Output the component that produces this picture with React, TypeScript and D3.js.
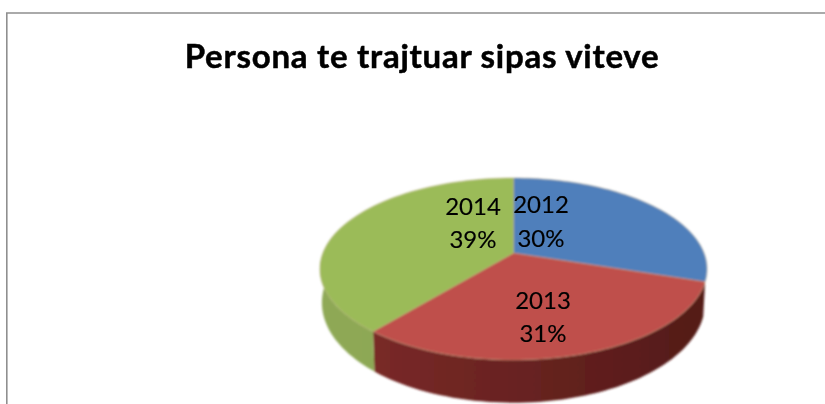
import React from "react";
import * as d3 from "d3";

const years = ["2012", "2013", "2014"];
const shares = [30, 31, 39];
const topColors = ["#4f7fbb", "#bf4f4c", "#9bbb59"];
const sideColors = [
  ["#3a5f8c", "#3a5f8c"],
  ["#7f2c2a", "#531a18"],
  ["#8fa956", "#84a04c"],
];
const title = "Persona te trajtuar sipas viteve";

const cx = 513.5;
const apexY = 253;
const rx = 190.5;
const ry = 88.2;
const k = 0.176;
const lowerDrop = 32;
const lowerScaleX = 0.99;
const lowerScaleY = 1.1;

const project = (a: number, lower = false): [number, number] => {
  const u = Math.sin(a);
  const v = -Math.cos(a);
  const w = 1 - k * v;
  const sx = lower ? lowerScaleX : 1;
  const sy = lower ? lowerScaleY : 1;
  return [cx + (rx * u * sx) / w, apexY + (ry * v * sy) / w + (lower ? lowerDrop : 0)];
};

const pie = d3.pie<number>().sort(null).value((d) => d);
const arcs = pie(shares);
const lineGen = d3.line();

const sample = (a0: number, a1: number, lower = false) =>
  d3.range(0, 61).map((i) => project(a0 + ((a1 - a0) * i) / 60, lower));

const topPath = (a0: number, a1: number) =>
  lineGen([[cx, apexY], ...sample(a0, a1)]) + "Z";

const sidePath = (a0: number, a1: number) => {
  const upper = sample(a0, a1);
  const lower = sample(a1, a0, true);
  return lineGen([...upper, ...lower]) + "Z";
};

// The side wall is visible from the blue/red seam round to the left of the disc.
const SIDE_START = arcs[0].endAngle;
const SIDE_END = (3 * Math.PI) / 2 + 0.3;

const labelPos = [
  { x: 541, y1: 213, y2: 247 },
  { x: 543, y1: 309, y2: 342 },
  { x: 473, y1: 215, y2: 248 },
];

export default function App() {
  return (
    <svg
      width={825}
      height={404}
      viewBox="0 0 825 404"
      style={{ position: "fixed", left: 0, top: 0, background: "#fff", display: "block" }}
    >
      <defs>
        <filter id="soft" x="-5%" y="-5%" width="110%" height="110%">
          <feGaussianBlur stdDeviation="0.8" />
        </filter>
        <filter id="softText" x="-5%" y="-20%" width="110%" height="140%">
          <feGaussianBlur stdDeviation="0.35" />
        </filter>
        {arcs.map((d, i) => (
          <linearGradient key={i} id={`side${i}`} gradientUnits="userSpaceOnUse" x1={320} x2={707} y1={0} y2={0}>
            <stop offset="0" stopColor={sideColors[i][0]} />
            <stop offset="1" stopColor={sideColors[i][1]} />
          </linearGradient>
        ))}
      </defs>
      <path d="M6.8 404V13H825" fill="none" stroke="#8f8f8f" strokeWidth={1.6} />
      <g filter="url(#soft)">
        {arcs.map((d, i) => {
          const a0 = Math.max(d.startAngle, SIDE_START);
          const a1 = Math.min(d.endAngle, SIDE_END);
          return a1 > a0 ? <path key={i} d={sidePath(a0, a1)} fill={`url(#side${i})`} /> : null;
        })}
        {arcs.map((d, i) => (
          <path
            key={years[i]}
            d={topPath(d.startAngle, d.endAngle)}
            fill={topColors[i]}
            stroke="#b9a777"
            strokeOpacity={0.45}
            strokeWidth={1}
          />
        ))}
      </g>
      <g filter="url(#softText)">
        {arcs.map((d, i) => (
          <text
            key={years[i]}
            textAnchor="middle"
            fontFamily="Lato, 'Open Sans', sans-serif"
            fontSize={24}
            fill="#000"
            stroke="#000"
            strokeWidth={0.15}
          >
            <tspan x={labelPos[i].x} y={labelPos[i].y1}>{years[i]}</tspan>
            <tspan x={labelPos[i].x} y={labelPos[i].y2}>{shares[i]}%</tspan>
          </text>
        ))}
        <text
          x={422}
          y={67.5}
          textAnchor="middle"
          fontFamily="Lato, 'Open Sans', sans-serif"
          fontWeight={700}
          fontSize={33}
          letterSpacing={0.75}
          stroke="#000"
          strokeWidth={0.5}
          fill="#000"
        >
          {title}
        </text>
      </g>
    </svg>
  );
}
